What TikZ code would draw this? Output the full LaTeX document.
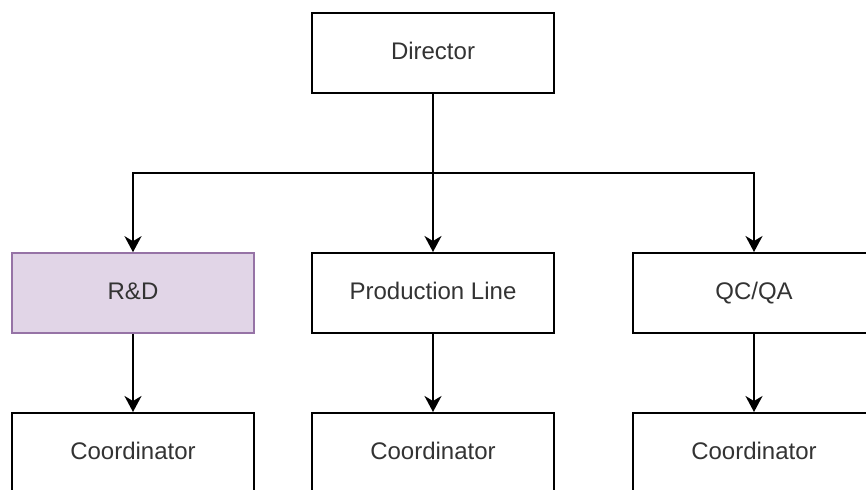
\documentclass[tikz,border=0pt]{standalone}
\usepackage{fontspec}
\setmainfont{Liberation Sans}
\usetikzlibrary{arrows.meta}
\definecolor{rdfill}{HTML}{E1D5E7}
\definecolor{rddraw}{HTML}{9673A6}
\begin{document}
\begin{tikzpicture}[x=0.5pt,y=-0.5pt,
  box/.style={draw=black, line width=1pt, rectangle, minimum width=121pt, minimum height=40pt, inner sep=0pt, text height=8.8pt, text depth=2.2pt, font=\fontsize{12pt}{14pt}\selectfont, text=black!80},
  rdbox/.style={box, draw=rddraw, fill=rdfill, line width=0.8pt},
  conn/.style={line width=1pt, -{Stealth[length=8pt,width=8.5pt,inset=2.5pt]}}]
\useasboundingbox (0,0) rectangle (866,489);
\clip (0,0) rectangle (866,489);
\node[box] (dir) at (433,53) {Director};
\node[rdbox] (rd) at (133,293) {R\&D};
\node[box] (prod) at (433,293) {Production Line};
\node[box] (qc) at (754,293) {QC/QA};
\node[box] (c1) at (133,453) {Coordinator};
\node[box] (c2) at (433,453) {Coordinator};
\node[box] (c3) at (754,453) {Coordinator};
\coordinate (j) at (433,173);
\draw[conn] (dir.south) -- (prod.north);
\draw[conn] (j) -| (rd.north);
\draw[conn] (j) -| (qc.north);
\draw[conn] (rd.south) -- (c1.north);
\draw[conn] (prod.south) -- (c2.north);
\draw[conn] (qc.south) -- (c3.north);
\end{tikzpicture}
\end{document}
